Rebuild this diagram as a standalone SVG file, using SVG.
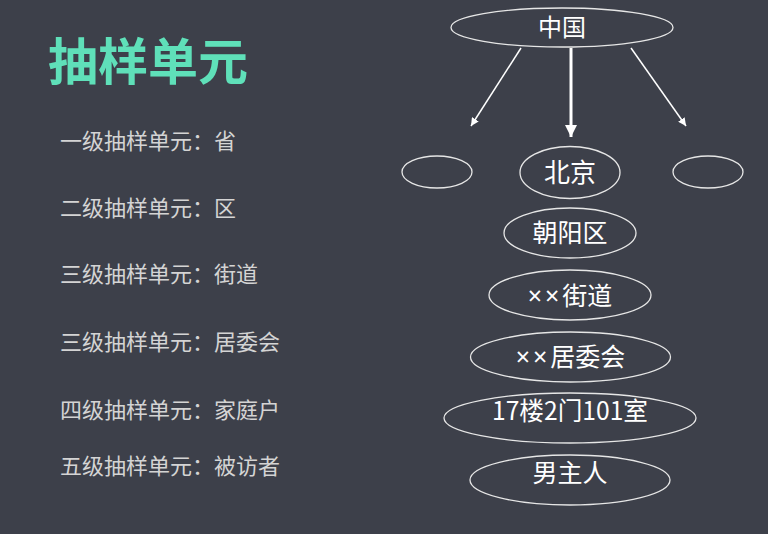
<svg xmlns="http://www.w3.org/2000/svg" width="768" height="534" viewBox="0 0 768 534">
<defs>
<style>
.t{font-family:"Noto Sans CJK SC","Noto Sans",sans-serif;}
.title{fill:#5fe0b9;font-size:50px;font-weight:bold;}
.lbl{fill:#d4d4d4;font-size:22px;}
.node ellipse{fill:none;stroke:#e6e6e6;stroke-width:1.3;}
.node text{fill:#ffffff;font-size:25px;text-anchor:middle;font-family:"Noto Sans CJK SC","Noto Sans",sans-serif;}
.x{font-family:"Noto Sans","DejaVu Sans",sans-serif;letter-spacing:3px;}
.conn line{stroke:#ffffff;}
</style>
<marker id="ah" viewBox="0 0 10 10" refX="10" refY="5" markerWidth="8" markerHeight="8" orient="auto" markerUnits="userSpaceOnUse">
<path d="M0,0 L10,5 L0,10 z" fill="#ffffff"/>
</marker>
<marker id="ahb" viewBox="0 0 10 10" refX="10" refY="5" markerWidth="12" markerHeight="12" orient="auto" markerUnits="userSpaceOnUse">
<path d="M0,0 L10,5 L0,10 z" fill="#ffffff"/>
</marker>
</defs>
<rect width="768" height="534" fill="#3d404a"/>
<text class="t title" x="48" y="80">抽样单元</text>
<g id="labels">
<text class="t lbl" x="60" y="149">一级抽样单元：省</text>
<text class="t lbl" x="60" y="216">二级抽样单元：区</text>
<text class="t lbl" x="60" y="282">三级抽样单元：街道</text>
<text class="t lbl" x="60" y="350">三级抽样单元：居委会</text>
<text class="t lbl" x="60" y="418">四级抽样单元：家庭户</text>
<text class="t lbl" x="60" y="474">五级抽样单元：被访者</text>
</g>
<g class="conn" id="connectors">
<line x1="521" y1="48" x2="471" y2="126" stroke-width="1.5" marker-end="url(#ah)"/>
<line x1="571" y1="48" x2="571" y2="137" stroke-width="3" marker-end="url(#ahb)"/>
<line x1="631" y1="48" x2="686" y2="126" stroke-width="1.5" marker-end="url(#ah)"/>
</g>
<g class="node" id="n-china"><ellipse cx="562" cy="27.5" rx="111" ry="19.5"/><text x="562" y="36" style="font-size:24px">中国</text></g>
<g class="node" id="n-left"><ellipse cx="437" cy="172" rx="35" ry="16"/></g>
<g class="node" id="n-beijing"><ellipse cx="570" cy="172.5" rx="50" ry="26"/><text x="570" y="182" style="font-size:26px">北京</text></g>
<g class="node" id="n-right"><ellipse cx="708" cy="172" rx="35" ry="16"/></g>
<g class="node" id="n-chaoyang"><ellipse cx="570" cy="233" rx="66" ry="25"/><text x="570" y="242">朝阳区</text></g>
<g class="node" id="n-jiedao"><ellipse cx="570" cy="295" rx="81" ry="25"/><text x="570" y="305"><tspan class="x">××</tspan>街道</text></g>
<g class="node" id="n-juweihui"><ellipse cx="570.5" cy="357" rx="100" ry="25"/><text x="570.5" y="366"><tspan class="x">××</tspan>居委会</text></g>
<g class="node" id="n-room"><ellipse cx="570" cy="418" rx="126" ry="25"/><text x="570" y="420" textLength="156" lengthAdjust="spacingAndGlyphs">17楼2门101室</text></g>
<g class="node" id="n-man"><ellipse cx="570" cy="480" rx="100" ry="25"/><text x="570" y="482">男主人</text></g>
</svg>
